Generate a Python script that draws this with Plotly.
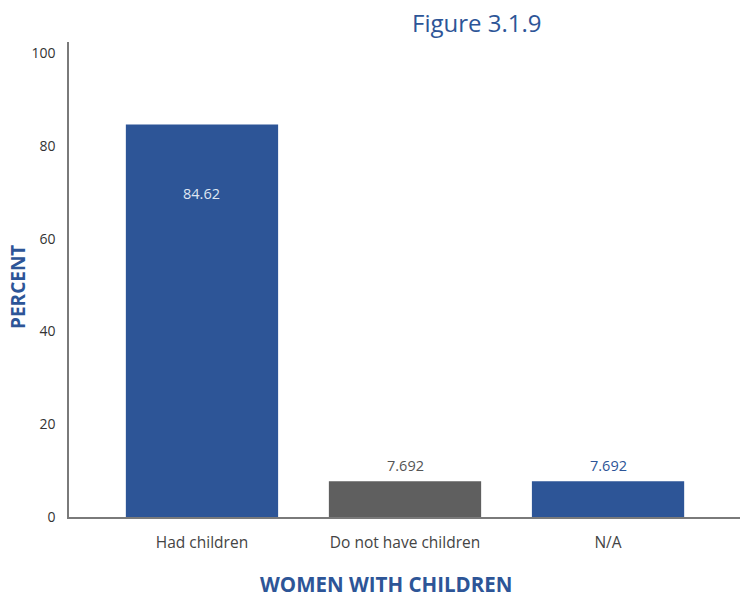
import plotly.graph_objects as go

categories = ["Had children", "Do not have children", "N/A"]
values = [84.62, 7.692, 7.692]
labels = ["84.62", "7.692", "7.692"]
bar_colors = ["#2d5597", "#5f5f5f", "#2d5597"]
label_colors = ["#dfe6f2", "#555555", "#2d5597"]
label_shift = [-69, 16, 16]
y_ticks = [0, 20, 40, 60, 80, 100]

BLUE = "#2d5597"
FONT = "Open Sans"

fig = go.Figure()
fig.add_trace(go.Bar(
    x=categories, y=values,
    marker=dict(color=bar_colors, line=dict(width=0)),
    width=0.75, hoverinfo="skip",
))

for c, v, t, col, sh in zip(categories, values, labels, label_colors, label_shift):
    fig.add_annotation(x=c, y=v, text=t, showarrow=False, yshift=sh,
                       font=dict(family=FONT, size=14.5, color=col))

fig.add_annotation(xref="paper", yref="paper", x=-0.077, y=0.485, text="<b>PERCENT</b>",
                   textangle=-90, showarrow=False, xanchor="center", yanchor="middle",
                   font=dict(family=FONT, size=19, color=BLUE))
fig.add_annotation(xref="paper", yref="paper", x=0.472, y=-0.142, text="<b>WOMEN WITH CHILDREN</b>",
                   showarrow=False, xanchor="center", yanchor="middle",
                   font=dict(family=FONT, size=20.5, color=BLUE))
fig.add_annotation(xref="paper", yref="paper", x=0.608, y=1.042, text="Figure 3.1.9",
                   showarrow=False, xanchor="center", yanchor="middle",
                   font=dict(family=FONT, size=24, color=BLUE))

fig.update_layout(
    width=751, height=601,
    margin=dict(l=69, r=11, t=42, b=84),
    paper_bgcolor="white", plot_bgcolor="white",
    showlegend=False,
    font=dict(family=FONT, size=14, color="#444444"),
    bargap=0.25,
)
fig.update_xaxes(range=[-0.655, 2.65], showline=True, linecolor="#7a7a7a", linewidth=1.5,
                 showgrid=False, zeroline=False, ticks="", ticklabelstandoff=11,
                 tickfont=dict(family=FONT, size=15.5, color="#444444"))
fig.update_yaxes(range=[0, 102.4], tickvals=y_ticks, showline=True, linecolor="#7a7a7a",
                 linewidth=1.5, showgrid=False, zeroline=False, ticks="", ticklabelstandoff=9,
                 tickfont=dict(family=FONT, size=14, color="#333333"))

fig.write_html("out.html")
